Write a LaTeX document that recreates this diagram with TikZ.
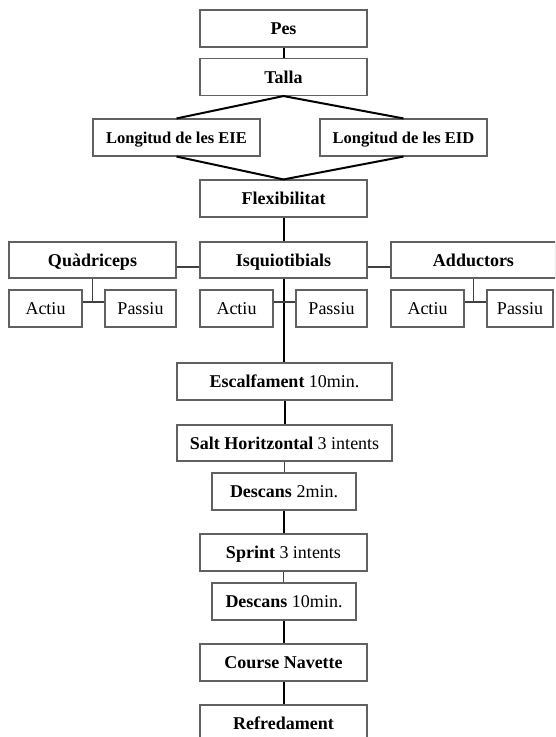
\documentclass[tikz,border=0pt]{standalone}
\usepackage{fontspec}
\setmainfont{Liberation Serif}
\usetikzlibrary{calc}
\begin{document}
\begin{tikzpicture}[x=1pt,y=1pt,
  box/.style={draw=black!62,line width=1.1pt,fill=white,inner sep=0pt,
    text height=12pt,text depth=0pt,font=\fontsize{18}{20}\selectfont},
  thick line/.style={line width=2pt,black},
  thin line/.style={line width=1.2pt,black!75}]
\useasboundingbox (0,0) rectangle (555,-737);
\begin{scope}
\clip (0,0) rectangle (555,-737);
% nodes
\node[box,minimum width=167,minimum height=37] (pes) at (283.5,-28.5) {\bfseries Pes};
\node[box,minimum width=167,minimum height=37] (talla) at (283.5,-77) {\bfseries Talla};
\node[box,minimum width=167,minimum height=37,font=\fontsize{16.5}{19}\selectfont] (eie) at (176.5,-137.5) {\bfseries Longitud de les EIE};
\node[box,minimum width=167,minimum height=37,font=\fontsize{16.5}{19}\selectfont] (eid) at (403.5,-137.5) {\bfseries Longitud de les EID};
\node[box,minimum width=167,minimum height=37] (flex) at (283.5,-198.5) {\bfseries Flexibilitat};
\node[box,minimum width=167,minimum height=36] (quad) at (92.5,-260) {\bfseries Quàdriceps};
\node[box,minimum width=167,minimum height=36] (isq) at (283.5,-260) {\bfseries Isquiotibials};
\node[box,minimum width=165,minimum height=36] (add) at (473.5,-260) {\bfseries Adductors};
\node[box,minimum width=73,minimum height=37] (actl) at (45.5,-308.5) {Actiu};
\node[box,minimum width=71,minimum height=37] (pasl) at (140.5,-308.5) {Passiu};
\node[box,minimum width=73,minimum height=37] (actm) at (236.5,-308.5) {Actiu};
\node[box,minimum width=71,minimum height=37] (pasm) at (331.5,-308.5) {Passiu};
\node[box,minimum width=73,minimum height=37] (actr) at (427.5,-308.5) {Actiu};
\node[box,minimum width=66,minimum height=37] (pasr) at (520,-308.5) {Passiu};
\node[box,minimum width=215,minimum height=37] (esc) at (284.5,-381.5) {\textbf{Escalfament} 10min.};
\node[box,minimum width=215,minimum height=36] (salt) at (284.5,-443) {\textbf{Salt Horitzontal} 3 intents};
\node[box,minimum width=144,minimum height=37] (desc2) at (284,-491.5) {\textbf{Descans} 2min.};
\node[box,minimum width=167,minimum height=37] (sprint) at (283.5,-552.5) {\textbf{Sprint} 3 intents};
\node[box,minimum width=144,minimum height=37] (desc10) at (284,-601.5) {\textbf{Descans} 10min.};
\node[box,minimum width=167,minimum height=37] (course) at (283.5,-662.5) {\bfseries Course Navette};
\node[box,minimum width=167,minimum height=37] (refr) at (283.5,-723.5) {\bfseries Refredament};
% junction coordinates
\coordinate (jl) at ($(actl.east)!0.5!(pasl.west)+(0,6.5)$);
\coordinate (jm) at ($(actm.east)!0.5!(pasm.west)+(0,6.5)$);
\coordinate (jr) at ($(actr.east)!0.5!(pasr.west)+(0,6.5)$);
% thick connectors
\draw[thick line] (pes.south) -- (talla.north);
\draw[thick line] (eie.north) -- (talla.south) -- (eid.north);
\draw[thick line] (eie.south) -- (flex.north) -- (eid.south);
\draw[thick line] (flex.south) -- (isq.north);
\draw[thick line] (isq.south) -- (isq.south |- esc.north);
\draw[thick line] (esc.south) -- (salt.north);
\draw[thick line] (desc2.south) -- (desc2.south |- sprint.north);
\draw[thick line] (desc10.south) -- (desc10.south |- course.north);
\draw[thick line] (course.south) -- (refr.north);
% thin connectors
\draw[thin line] (salt.south) -- (salt.south |- desc2.north);
\draw[thin line] (sprint.south) -- (sprint.south |- desc10.north);
\draw[thin line] ([yshift=-7]quad.east) -- ([yshift=-7]isq.west);
\draw[thin line] ([yshift=-7]isq.east) -- ([yshift=-7]add.west);
\draw[thin line] (quad.south) -- (quad.south |- jl);
\draw[thin line] ([yshift=6.5]actl.east) -- ([yshift=6.5]pasl.west);
\draw[thin line] ([yshift=6.5]actm.east) -- ([yshift=6.5]pasm.west);
\draw[thin line] (add.south) -- (add.south |- jr);
\draw[thin line] ([yshift=6.5]actr.east) -- ([yshift=6.5]pasr.west);
\end{scope}
\end{tikzpicture}
\end{document}
